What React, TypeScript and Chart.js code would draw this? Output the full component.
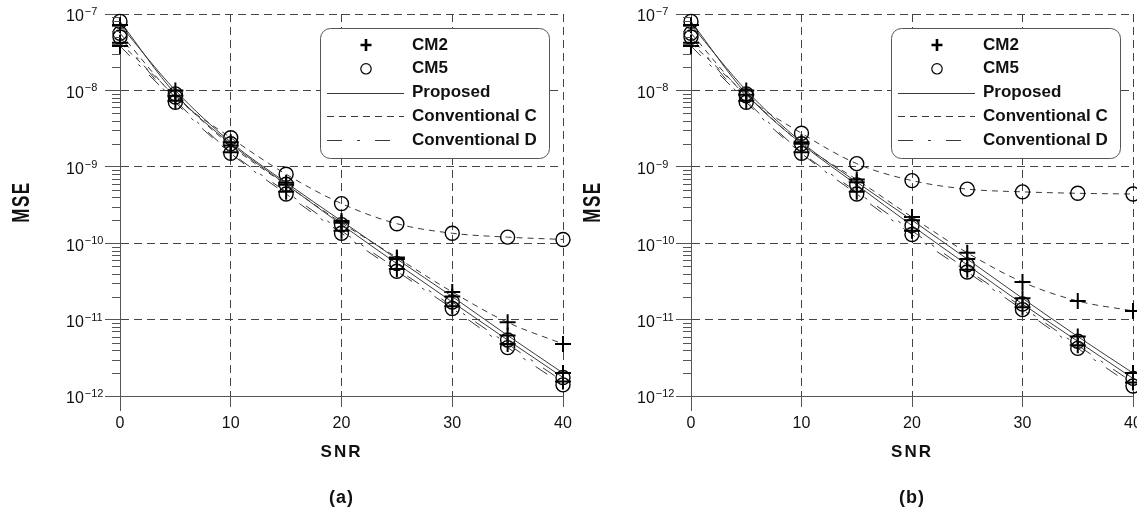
import React, { useEffect, useRef } from 'react';
import { Chart, registerables } from 'chart.js';

Chart.register(...registerables);

// ---------- data ----------
const snr = [0, 5, 10, 15, 20, 25, 30, 35, 40];
const xTickValues = [0, 10, 20, 30, 40];
const yDecadeExponents = [-12, -11, -10, -9, -8, -7];
const yMinorMultipliers = [2, 3, 4, 5, 6, 7, 8, 9];
const channelLabels = ['CM2', 'CM5'];
const methodLabels = ['Proposed', 'Conventional C', 'Conventional D'];
const legendLabels = ['CM2', 'CM5', 'Proposed', 'Conventional C', 'Conventional D'];
const axisTitleX = 'SNR';
const axisTitleY = 'MSE';

// panel (a)
const aCm2Proposed = [7.2e-8, 1.0e-8, 2.1e-9, 6.2e-10, 1.95e-10, 6.2e-11, 2.0e-11, 6.2e-12, 2.0e-12];
const aCm2ConvC = [4.2e-8, 8.5e-9, 1.9e-9, 5.8e-10, 1.85e-10, 6.5e-11, 2.3e-11, 9.2e-12, 4.8e-12];
const aCm2ConvD = [3.8e-8, 7.3e-9, 1.55e-9, 4.7e-10, 1.45e-10, 4.6e-11, 1.5e-11, 4.8e-12, 1.55e-12];
const aCm5Proposed = [8.0e-8, 9.0e-9, 2.0e-9, 5.9e-10, 1.75e-10, 5.4e-11, 1.7e-11, 5.4e-12, 1.75e-12];
const aCm5ConvC = [5.6e-8, 8.2e-9, 2.4e-9, 8.0e-10, 3.3e-10, 1.8e-10, 1.35e-10, 1.2e-10, 1.12e-10];
const aCm5ConvD = [5.0e-8, 7.0e-9, 1.5e-9, 4.4e-10, 1.35e-10, 4.3e-11, 1.4e-11, 4.3e-12, 1.4e-12];

// panel (b)
const bCm2Proposed = [7.2e-8, 1.0e-8, 2.1e-9, 6.3e-10, 2.0e-10, 6.2e-11, 1.9e-11, 6.0e-12, 2.0e-12];
const bCm2ConvC = [4.2e-8, 8.8e-9, 2.0e-9, 6.8e-10, 2.2e-10, 7.5e-11, 3.1e-11, 1.75e-11, 1.3e-11];
const bCm2ConvD = [3.8e-8, 7.3e-9, 1.55e-9, 4.7e-10, 1.45e-10, 4.5e-11, 1.45e-11, 4.6e-12, 1.5e-12];
const bCm5Proposed = [8.0e-8, 9.0e-9, 2.0e-9, 5.8e-10, 1.7e-10, 5.2e-11, 1.6e-11, 5.2e-12, 1.7e-12];
const bCm5ConvC = [5.6e-8, 8.5e-9, 2.75e-9, 1.1e-9, 6.6e-10, 5.1e-10, 4.7e-10, 4.5e-10, 4.4e-10];
const bCm5ConvD = [5.0e-8, 7.0e-9, 1.5e-9, 4.4e-10, 1.3e-10, 4.2e-11, 1.35e-11, 4.2e-12, 1.35e-12];

// ---------- styles ----------
const FONT = '"Liberation Sans", Arial, Helvetica, sans-serif';
const LINE_COLOR = '#3a3a3a';
const GRID_COLOR = '#444444';
const AXIS_COLOR = '#555555';
const TEXT_COLOR = '#111111';
const methodDash: number[][] = [[], [6, 5], [14, 12, 3, 12]];
const channelPoint = [
  { style: 'cross', radius: 8, width: 2 },
  { style: 'circle', radius: 7, width: 1.4 },
];
const H = 510;
const PLOT_RIGHT = 563;

function makeOverlay(caption: string) {
  return {
    id: 'overlay' + caption.replace(/\W/g, ''),
    afterDraw(chart: any) {
      const ctx = chart.ctx as CanvasRenderingContext2D;
      const area = chart.chartArea;
      const xs = chart.scales.x;
      const ys = chart.scales.y;
      ctx.save();

      // minor y ticks
      ctx.strokeStyle = AXIS_COLOR;
      ctx.lineWidth = 1;
      ctx.beginPath();
      yDecadeExponents.slice(0, -1).forEach((e) => {
        yMinorMultipliers.forEach((m) => {
          const py = Math.round(ys.getPixelForValue(m * Math.pow(10, e))) + 0.5;
          ctx.moveTo(area.left - 8, py);
          ctx.lineTo(area.left, py);
        });
      });
      ctx.stroke();

      // y-axis line extension below the x-axis
      ctx.beginPath();
      ctx.moveTo(Math.round(area.left) + 0.5, area.bottom);
      ctx.lineTo(Math.round(area.left) + 0.5, area.bottom + 15);
      ctx.stroke();

      ctx.fillStyle = TEXT_COLOR;
      // y labels 10^n
      yDecadeExponents.forEach((e) => {
        const py = ys.getPixelForValue(Math.pow(10, e));
        ctx.font = `16px ${FONT}`;
        ctx.textAlign = 'left';
        ctx.textBaseline = 'middle';
        const baseX = 66;
        ctx.fillText('10', baseX, py + 3);
        const w = ctx.measureText('10').width;
        ctx.font = `11px ${FONT}`;
        ctx.fillText('\u2212' + String(Math.abs(e)), baseX + w + 1, py - 2);
      });

      // x labels
      ctx.font = `16px ${FONT}`;
      ctx.textAlign = 'center';
      ctx.textBaseline = 'middle';
      xTickValues.forEach((v) => {
        ctx.fillText(String(v), xs.getPixelForValue(v), 424);
      });

      // axis titles
      ctx.font = `bold 17px ${FONT}`;
      (ctx as any).letterSpacing = '2px';
      const cx = (area.left + area.right) / 2 - 1;
      ctx.fillText(axisTitleX, cx + 1, 452);
      ctx.save();
      ctx.translate(22.5, 203);
      ctx.rotate(-Math.PI / 2);
      ctx.scale(1, 1.45);
      (ctx as any).letterSpacing = '1.5px';
      ctx.fillText(axisTitleY, 1, 0);
      ctx.restore();
      ctx.font = `bold 18px ${FONT}`;
      (ctx as any).letterSpacing = '1px';
      ctx.fillText(caption, cx + 1, 498);
      (ctx as any).letterSpacing = '0px';

      // legend
      const lx = 320.5, ly = 28.5, lw = 229, lh = 130;
      ctx.beginPath();
      (ctx as any).roundRect(lx, ly, lw, lh, 10);
      ctx.fillStyle = '#ffffff';
      ctx.fill();
      ctx.strokeStyle = AXIS_COLOR;
      ctx.lineWidth = 1;
      ctx.stroke();

      const rowY = (i: number) => 45 + i * 23.8;
      const sx1 = 327, sx2 = 404, mx = 366;
      // CM2 cross
      ctx.strokeStyle = '#000';
      ctx.lineWidth = 2.6;
      ctx.beginPath();
      ctx.moveTo(mx - 5.5, rowY(0)); ctx.lineTo(mx + 5.5, rowY(0));
      ctx.moveTo(mx, rowY(0) - 6); ctx.lineTo(mx, rowY(0) + 6);
      ctx.stroke();
      // CM5 circle
      ctx.lineWidth = 1.2;
      ctx.beginPath();
      ctx.arc(mx, rowY(1), 5.2, 0, Math.PI * 2);
      ctx.stroke();
      // line samples
      [[], [7, 5], [15, 15, 3, 15]].forEach((dash, i) => {
        ctx.strokeStyle = LINE_COLOR;
        ctx.lineWidth = 1;
        ctx.setLineDash(dash);
        ctx.beginPath();
        const y = Math.round(rowY(i + 2)) + 0.5;
        ctx.moveTo(sx1, y);
        ctx.lineTo(sx2, y);
        ctx.stroke();
      });
      ctx.setLineDash([]);
      ctx.fillStyle = TEXT_COLOR;
      ctx.font = `bold 17px ${FONT}`;
      ctx.textAlign = 'left';
      ctx.textBaseline = 'middle';
      legendLabels.forEach((t, i) => ctx.fillText(t, 412, rowY(i)));

      ctx.restore();
    },
  };
}

function Panel({ series, caption, left, width, plotRight }: { series: number[][][]; caption: string; left: number; width: number; plotRight: number }) {
  const ref = useRef<HTMLCanvasElement | null>(null);
  useEffect(() => {
    const canvas = ref.current!;
    const datasets: any[] = [];
    series.forEach((channel, ci) =>
      channel.forEach((vals, mi) => {
        datasets.push({
          label: channelLabels[ci] + ' ' + methodLabels[mi],
          data: vals.map((v, i) => ({ x: snr[i], y: v })),
          borderColor: LINE_COLOR,
          borderWidth: 1,
          borderDash: methodDash[mi],
          pointStyle: channelPoint[ci].style,
          pointRadius: channelPoint[ci].radius,
          pointBorderWidth: channelPoint[ci].width,
          pointBorderColor: '#000',
          pointBackgroundColor: 'rgba(0,0,0,0)',
          cubicInterpolationMode: 'monotone',
          fill: false,
          clip: false,
        });
      })
    );
    const chart = new Chart(canvas, {
      type: 'line',
      data: { datasets },
      options: {
        responsive: false,
        animation: false,
        events: [],
        layout: { autoPadding: false, padding: { left: 105, top: 14, right: width - plotRight, bottom: H - 395 - 12 } },
        plugins: { legend: { display: false }, tooltip: { enabled: false }, title: { display: false } },
        scales: {
          x: {
            type: 'linear',
            min: 0,
            max: 40,
            ticks: { display: false, stepSize: 10 },
            afterBuildTicks: (scale: any) => {
              scale.ticks = xTickValues.map((v) => ({ value: v }));
            },
            grid: {
              color: (c: any) => (c.index === 0 ? 'rgba(0,0,0,0)' : GRID_COLOR),
              lineWidth: 1,
              tickLength: 11,
              tickColor: AXIS_COLOR,
              tickWidth: 1,
            },
            border: { display: true, color: AXIS_COLOR, width: 1, dash: [8, 5] },
          },
          y: {
            type: 'logarithmic',
            min: 1e-12,
            max: 1e-7,
            ticks: { display: false },
            afterBuildTicks: (scale: any) => {
              scale.ticks = yDecadeExponents.map((e) => ({ value: Math.pow(10, e), major: true }));
            },
            grid: {
              color: (c: any) => (c.index === 0 ? 'rgba(0,0,0,0)' : GRID_COLOR),
              lineWidth: 1,
              tickLength: 15,
              tickColor: AXIS_COLOR,
              tickWidth: 1,
            },
            border: { display: true, color: AXIS_COLOR, width: 1, dash: [8, 5] },
          },
        },
      } as any,
      plugins: [makeOverlay(caption)],
    });
    return () => chart.destroy();
  }, []);
  return (
    <canvas
      ref={ref}
      width={width}
      height={H}
      style={{ position: 'absolute', left, top: 0, width, height: H, display: 'block' }}
    />
  );
}

export default function App() {
  const seriesA = [
    [aCm2Proposed, aCm2ConvC, aCm2ConvD],
    [aCm5Proposed, aCm5ConvC, aCm5ConvD],
  ];
  const seriesB = [
    [bCm2Proposed, bCm2ConvC, bCm2ConvD],
    [bCm5Proposed, bCm5ConvC, bCm5ConvD],
  ];
  return (
    <div style={{ position: 'absolute', left: 0, top: 0, width: 1137, height: H, background: '#fff', overflow: 'hidden' }}>
      <Panel series={seriesA} caption="(a)" left={0} width={590} plotRight={PLOT_RIGHT} />
      <Panel series={seriesB} caption="(b)" left={571} width={566} plotRight={PLOT_RIGHT - 1} />
    </div>
  );
}
